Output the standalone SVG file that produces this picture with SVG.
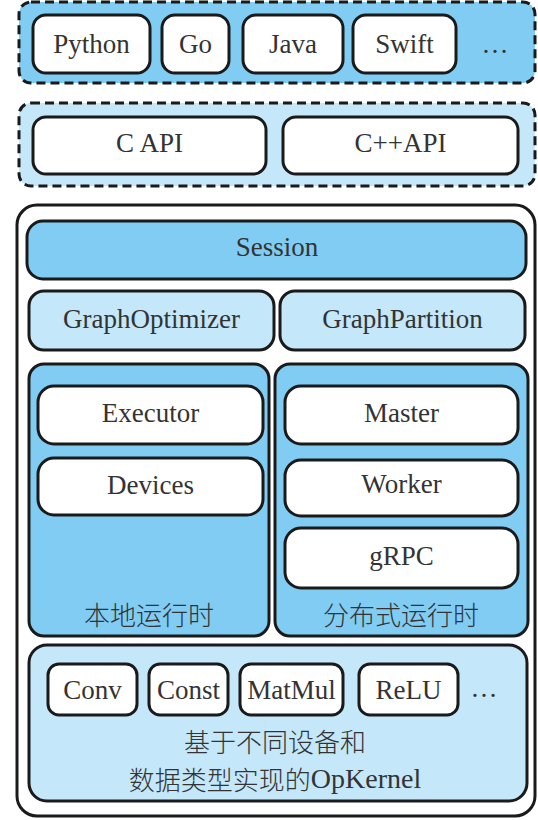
<svg xmlns="http://www.w3.org/2000/svg" width="538" height="820" viewBox="0 0 538 820">
<style>
.dash{stroke:#1a1a1a;stroke-width:3;stroke-dasharray:9 5}
.box{stroke:#1a1a1a;stroke-width:3}
.w{fill:#ffffff}
.d{fill:#80ccf3}
.l{fill:#c4e7fa}
text{font-family:'Liberation Serif','Times New Roman','DejaVu Serif',serif;font-size:27px;fill:#333333;text-anchor:middle;dominant-baseline:central}
text.cjk{font-family:'Noto Sans CJK SC',sans-serif;font-size:26px;font-weight:300}
tspan.lat{font-family:'Liberation Serif','Times New Roman',serif;font-size:28px;font-weight:400}
</style>
<rect width="538" height="820" fill="#ffffff"/>
<g id="languages">
<rect class="dash d" x="19" y="2" width="516" height="81" rx="12"/>
<g id="python"><rect class="box w" x="33" y="15" width="117" height="58" rx="13"/><text x="91.5" y="44">Python</text></g>
<g id="go"><rect class="box w" x="162" y="15" width="67" height="58" rx="13"/><text x="195.5" y="44">Go</text></g>
<g id="java"><rect class="box w" x="243" y="15" width="100" height="58" rx="13"/><text x="293" y="44">Java</text></g>
<g id="swift"><rect class="box w" x="353" y="15" width="103" height="58" rx="13"/><text x="404.5" y="44">Swift</text></g>
<text x="495" y="44">…</text>
</g>
<g id="apis">
<rect class="dash l" x="19" y="103" width="516" height="83" rx="12"/>
<g id="capi"><rect class="box w" x="33" y="117" width="233" height="57" rx="13"/><text x="149.5" y="143">C API</text></g>
<g id="cppapi"><rect class="box w" x="283" y="117" width="235" height="57" rx="13"/><text x="400.5" y="143">C++API</text></g>
</g>
<g id="core">
<rect class="box w" x="17" y="205" width="518" height="611" rx="20"/>
<g id="session"><rect class="box d" x="27" y="221" width="499" height="58" rx="16"/><text x="277" y="247">Session</text></g>
<g id="graphoptimizer"><rect class="box l" x="29" y="291" width="245" height="59" rx="15"/><text x="151.5" y="319">GraphOptimizer</text></g>
<g id="graphpartition"><rect class="box l" x="280" y="291" width="245" height="59" rx="15"/><text x="402.5" y="319">GraphPartition</text></g>
<g id="local-runtime">
<rect class="box d" x="29" y="364" width="240" height="272" rx="15"/>
<text class="cjk" x="149" y="613">本地运行时</text>
</g>
<g id="executor"><rect class="box w" x="38" y="386" width="225" height="58" rx="16"/><text x="150.5" y="413">Executor</text></g>
<g id="devices"><rect class="box w" x="38" y="458" width="225" height="57" rx="16"/><text x="150.5" y="485">Devices</text></g>
<g id="distributed-runtime">
<rect class="box d" x="275" y="364" width="253" height="272" rx="15"/>
<text class="cjk" x="401" y="613">分布式运行时</text>
</g>
<g id="master"><rect class="box w" x="285" y="386" width="233" height="58" rx="16"/><text x="401.5" y="413">Master</text></g>
<g id="worker"><rect class="box w" x="285" y="460" width="233" height="56" rx="16"/><text x="401.5" y="484">Worker</text></g>
<g id="grpc"><rect class="box w" x="285" y="528" width="233" height="60" rx="16"/><text x="401.5" y="556">gRPC</text></g>
<g id="opkernel">
<rect class="box l" x="29" y="645" width="498" height="156" rx="18"/>
<text class="cjk" x="275" y="740">基于不同设备和</text>
<text class="cjk" x="275" y="778">数据类型实现的<tspan class="lat">OpKernel</tspan></text>
</g>
<g id="conv"><rect class="box w" x="48" y="664" width="89" height="51" rx="11"/><text x="92.5" y="690">Conv</text></g>
<g id="const"><rect class="box w" x="149" y="664" width="79" height="51" rx="11"/><text x="188.5" y="690">Const</text></g>
<g id="matmul"><rect class="box w" x="240" y="664" width="103" height="51" rx="11"/><text x="291.5" y="690">MatMul</text></g>
<g id="relu"><rect class="box w" x="359" y="664" width="99" height="51" rx="11"/><text x="408.5" y="690">ReLU</text></g>
<text x="484" y="688">…</text>
</g>
<g id="connectors"></g>
</svg>
